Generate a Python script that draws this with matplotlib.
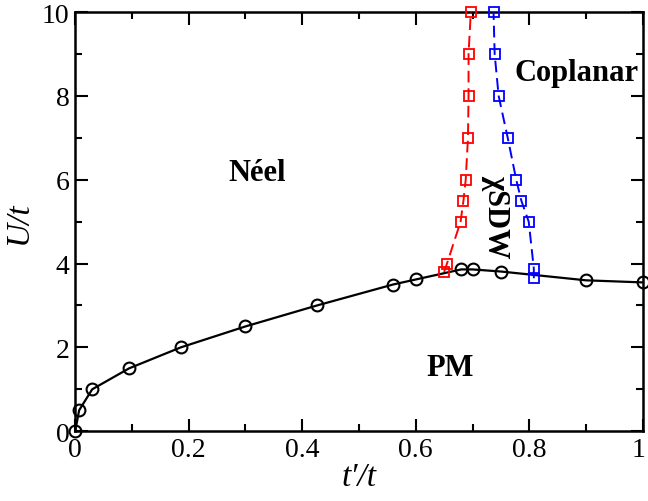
import matplotlib
matplotlib.use("Agg")
import matplotlib.pyplot as plt
import matplotlib.transforms as mtransforms
from matplotlib.ticker import MultipleLocator

# PM boundary (black)
pm_tp = [0.0, 0.007, 0.03, 0.095, 0.186, 0.30, 0.426, 0.56, 0.60, 0.68, 0.70, 0.75, 0.90, 1.0]
pm_U = [0.0, 0.5, 1.0, 1.5, 2.0, 2.5, 3.0, 3.5, 3.62, 3.86, 3.86, 3.81, 3.60, 3.55]

# Neel / chi-SDW boundary (red)
neel_tp = [0.650, 0.655, 0.679, 0.684, 0.688, 0.692, 0.693, 0.693, 0.697]
neel_U = [3.8, 4.0, 5.0, 5.5, 6.0, 7.0, 8.0, 9.0, 10.0]

# chi-SDW / coplanar boundary (blue)
copl_tp = [0.808, 0.808, 0.799, 0.786, 0.777, 0.762, 0.746, 0.739, 0.737]
copl_U = [3.65, 3.88, 5.0, 5.5, 6.0, 7.0, 8.0, 9.0, 10.0]

plt.rcParams['font.family'] = ['Liberation Serif', 'DejaVu Serif']

fig, ax = plt.subplots(figsize=(6.48, 5.02), dpi=100)
fig.subplots_adjust(left=0.116, right=0.992, top=0.974, bottom=0.139)

ax.plot(pm_tp, pm_U, color='black', lw=1.6, marker='o', ms=8.5,
        mfc='none', mew=1.5, clip_on=False, zorder=3)
ax.plot(neel_tp, neel_U, color='red', lw=1.4, ls=(0, (6, 3)), marker='s',
        ms=6.5, mfc='none', mew=1.3, clip_on=False, zorder=4)
ax.plot(copl_tp, copl_U, color='blue', lw=1.4, ls=(0, (6, 3)), marker='s',
        ms=6.5, mfc='none', mew=1.3, clip_on=False, zorder=4)

ax.set_xlim(0, 1)
ax.set_ylim(0, 10)
ax.xaxis.set_minor_locator(MultipleLocator(0.1))
ax.yaxis.set_major_locator(MultipleLocator(2))
ax.yaxis.set_minor_locator(MultipleLocator(1))
ax.set_xticks([0, 0.2, 0.4, 0.6, 0.8, 1.0], ['0', '0.2', '0.4', '0.6', '0.8', '1'])
ax.tick_params(which='both', direction='in', top=True, right=True, width=1.5,
               labelsize=20, pad=4)
ax.tick_params(which='major', length=9)
ax.tick_params(which='minor', length=5)
for s in ax.spines.values():
    s.set_linewidth(1.8)

# nudge the last x label so it stays inside the figure
last = ax.get_xticklabels()[-1]
last.set_transform(last.get_transform() +
                   mtransforms.ScaledTranslation(-3 / 72, 0, fig.dpi_scale_trans))

ax.set_xlabel("t\u2032/t", fontsize=24, fontstyle='italic', labelpad=0)
ax.set_ylabel("U/t", fontsize=24, fontstyle='italic', labelpad=6)

ax.text(0.321, 6.17, 'Néel', fontsize=22, fontweight='bold', ha='center', va='center')
ax.text(0.884, 8.55, 'Coplanar', fontsize=22, fontweight='bold', ha='center', va='center')
ax.text(0.660, 1.52, 'PM', fontsize=22, fontweight='bold', ha='center', va='center')
ax.text(0.740, 5.15, 'χSDW', fontsize=22, fontweight='bold', ha='center', va='center',
        rotation=-90)

fig.savefig('out.png', dpi=100)
